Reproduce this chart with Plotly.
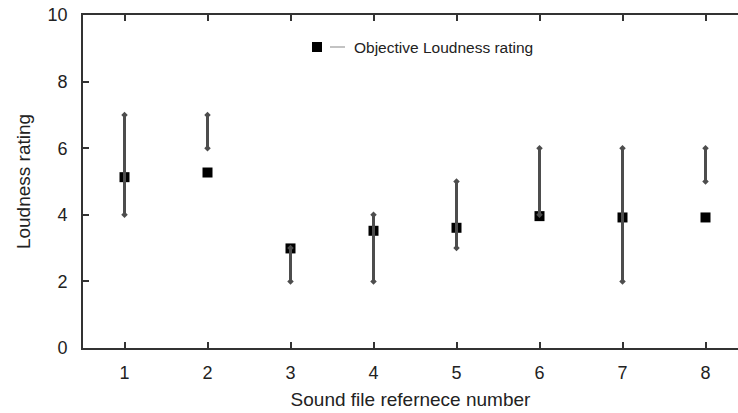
import plotly.graph_objects as go

# Sound files and their objective loudness rating
sound_files = [1, 2, 3, 4, 5, 6, 7, 8]
objective_rating = [5.13, 5.27, 2.99, 3.52, 3.61, 3.96, 3.92, 3.92]

# Range of subjective ratings per sound file (min / max)
range_low = [4, 6, 2, 2, 3, 4, 2, 5]
range_high = [7, 7, 3, 4, 5, 6, 6, 6]

y_ticks = [0, 2, 4, 6, 8, 10]

FONT = "Liberation Sans, Arial, sans-serif"
AXIS_COLOR = "#333333"
BAR_COLOR = "#4d4d4d"

fig = go.Figure()

# Objective ratings as black squares
fig.add_trace(go.Scatter(
    x=sound_files, y=objective_rating, mode="markers",
    marker=dict(symbol="square", size=10, color="black"),
    name="Objective Loudness rating", showlegend=False,
))

# Vertical range lines with small diamond caps
seg_x, seg_y = [], []
for xv, lo, hi in zip(sound_files, range_low, range_high):
    seg_x += [xv, xv, None]
    seg_y += [lo, hi, None]
fig.add_trace(go.Scatter(
    x=seg_x, y=seg_y, mode="lines+markers",
    line=dict(color=BAR_COLOR, width=3),
    marker=dict(symbol="diamond", size=5, color=BAR_COLOR),
    showlegend=False, hoverinfo="skip",
))

# Hand-drawn legend entry: square, short grey line, label
fig.add_shape(type="rect", xref="paper", yref="paper",
              x0=(312 - 83) / 655, x1=(322 - 83) / 655,
              y0=(348 - 52) / 333, y1=(348 - 42) / 333,
              fillcolor="black", line=dict(width=0))
fig.add_shape(type="line", xref="paper", yref="paper",
              x0=(330 - 83) / 655, x1=(345 - 83) / 655,
              y0=(348 - 47) / 333, y1=(348 - 47) / 333,
              line=dict(color="#9a9a9a", width=1.2))
fig.add_annotation(text="Objective Loudness rating", xref="paper", yref="paper",
                   x=(352 - 83) / 655, y=(348 - 47) / 333,
                   xanchor="left", yanchor="middle", showarrow=False,
                   font=dict(family=FONT, size=15.5, color="#222222"))

fig.update_layout(
    width=738, height=413,
    margin=dict(l=83, r=0, t=15, b=65),
    plot_bgcolor="white", paper_bgcolor="white",
    font=dict(family=FONT, color="#222222"),
    xaxis=dict(
        range=[0.5, 0.5 + 655 / 83], tickvals=sound_files,
        ticks="inside", ticklen=6, tickwidth=1.5, tickcolor=AXIS_COLOR,
        showline=True, linecolor=AXIS_COLOR, linewidth=1.7, mirror="ticks",
        showgrid=False, zeroline=False,
        tickfont=dict(size=18), ticklabelstandoff=8,
        title=dict(text="Sound file refernece number", font=dict(size=19), standoff=10),
    ),
    yaxis=dict(
        range=[0, 10], tickvals=y_ticks,
        ticks="inside", ticklen=6, tickwidth=1.5, tickcolor=AXIS_COLOR,
        showline=True, linecolor=AXIS_COLOR, linewidth=1.7,
        showgrid=False, zeroline=False,
        tickfont=dict(size=18), ticklabelstandoff=10,
        title=dict(text="Loudness rating", font=dict(size=19), standoff=12),
    ),
)

fig.write_html("out.html")
